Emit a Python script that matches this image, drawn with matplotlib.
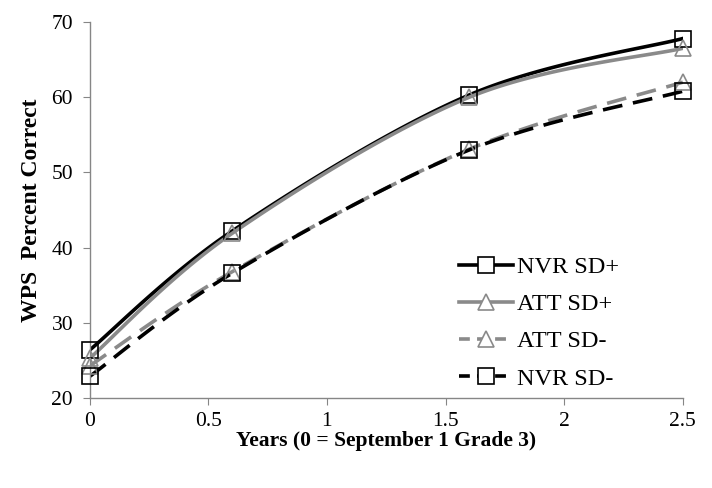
import numpy as np
import matplotlib.pyplot as plt

plt.rcParams['font.family'] = ['Liberation Serif', 'DejaVu Serif']

years = [0, 0.6, 1.6, 2.5]
nvr_sd_plus = [26.4, 42.2, 60.3, 67.8]
att_sd_plus = [25.3, 41.9, 60.0, 66.5]
att_sd_minus = [24.3, 36.8, 53.1, 62.0]
nvr_sd_minus = [22.9, 36.6, 53.0, 60.8]


def smooth(xs, ys, n=40):
    # Excel-style smoothed line (Catmull-Rom as cubic Bezier segments)
    p = np.column_stack([xs, ys]).astype(float)
    pts = np.vstack([p[0], p, p[-1]])
    out = []
    t = np.linspace(0, 1, n)[:, None]
    for i in range(1, len(pts) - 2):
        p0, p1, p2, p3 = pts[i - 1], pts[i], pts[i + 1], pts[i + 2]
        c1 = p1 + (p2 - p0) / 6
        c2 = p2 - (p3 - p1) / 6
        seg = ((1 - t) ** 3) * p1 + 3 * ((1 - t) ** 2) * t * c1 + 3 * (1 - t) * t ** 2 * c2 + t ** 3 * p2
        out.append(seg if i == 1 else seg[1:])
    seg = np.vstack(out)
    return seg[:, 0], seg[:, 1]


fig = plt.figure(figsize=(7.12, 4.88), dpi=100)
ax = fig.add_axes([0.126, 0.184, 0.833, 0.771])

dash = (0, (5.5, 3))
series = [
    ('NVR SD+', nvr_sd_plus, 'black', '-', 's'),
    ('ATT SD+', att_sd_plus, '#8a8a8a', '-', '^'),
    ('ATT SD-', att_sd_minus, '#8a8a8a', dash, '^'),
    ('NVR SD-', nvr_sd_minus, 'black', dash, 's'),
]

for label, vals, col, ls, mk in series:
    sx, sy = smooth(years, vals)
    ax.plot(sx, sy, color=col, lw=2.6, ls=ls, zorder=2)
    ax.plot(years, vals, ls='none', marker=mk, ms=11, mfc='none',
            mec=col, mew=1.2, zorder=3, clip_on=False)
    ax.plot([], [], color=col, lw=2.6, ls='-' if ls == '-' else (0, (3, 2)),
            marker=mk, ms=11, mfc='white', mec=col, mew=1.2, label=label)

ax.set_xlim(0, 2.5)
ax.set_ylim(20, 70)
ax.set_xticks([0, 0.5, 1, 1.5, 2, 2.5])
ax.set_xticklabels(['0', '0.5', '1', '1.5', '2', '2.5'])
ax.set_yticks([20, 30, 40, 50, 60, 70])

for s in ['top', 'right']:
    ax.spines[s].set_visible(False)
for s in ['left', 'bottom']:
    ax.spines[s].set_color('#868686')
    ax.spines[s].set_linewidth(1)
ax.tick_params(direction='out', length=5, color='#868686', labelsize=15.5)
ax.tick_params(axis='y', pad=7)
ax.tick_params(axis='x', pad=5)

ax.set_xlabel('Years (0 = September 1 Grade 3)', fontsize=15.5, fontweight='bold', labelpad=0)
ax.set_ylabel('WPS  Percent Correct', fontsize=17, fontweight='bold', labelpad=7)

ax.legend(loc='lower right', bbox_to_anchor=(0.93, -0.035), frameon=False,
          fontsize=17.5, handlelength=2.2, labelspacing=0.62, handletextpad=0.2)

fig.savefig('out.png', dpi=100)
